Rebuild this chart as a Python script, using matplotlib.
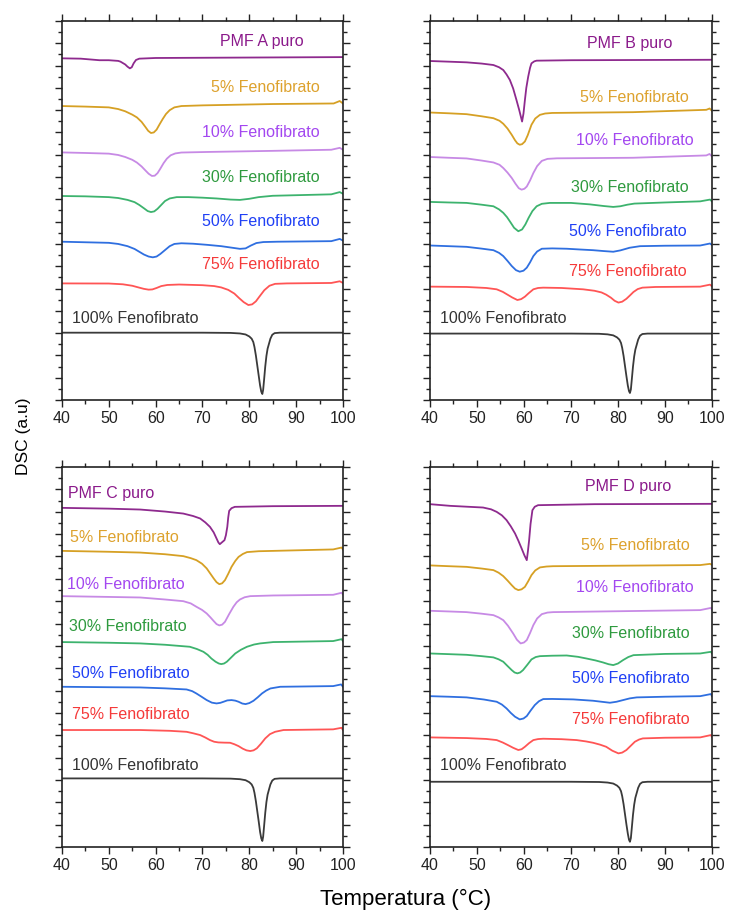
# -*- coding: utf-8 -*-
"""
DSC curves of PMF A-D with increasing fenofibrate content.
"""

import matplotlib
matplotlib.use('Agg')
import matplotlib.pyplot as plt
from matplotlib.ticker import MultipleLocator

plt.rcParams.update({'font.family': ['Liberation Sans', 'DejaVu Sans']})
plt.rcParams.update({'font.size': 11})
plt.rcParams.update({'axes.linewidth': 1.2})

#%% data (temperature in C, DSC in arbitrary offset units)

names_A = ['PMF A puro', '5% Fenofibrato', '10% Fenofibrato', '30% Fenofibrato',
           '50% Fenofibrato', '75% Fenofibrato', '100% Fenofibrato']
names_B = ['PMF B puro'] + names_A[1:]
names_C = ['PMF C puro'] + names_A[1:]
names_D = ['PMF D puro'] + names_A[1:]

# panel A
A_puro_T = [40, 44, 46, 48, 50, 52, 52.5, 53.5, 54, 54.5, 54.9, 55.3, 55.8, 56.5, 60, 70, 80, 90, 100]
A_puro_y = [30.65, 30.62, 30.55, 30.48, 30.48, 30.42, 30.35, 30.1, 29.9, 29.75, 29.85, 30.2, 30.5, 30.62, 30.68, 30.7, 30.72, 30.74, 30.76]
A_5_T = [40, 45, 50, 52, 53.5, 55, 56, 57, 57.8, 58.4, 59, 59.6, 60.2, 60.8, 61.5, 62.2, 63, 64, 65.5, 70, 85, 98, 99.3, 100]
A_5_y = [26.37, 26.32, 26.25, 26.1, 25.9, 25.6, 25.35, 24.95, 24.5, 24.15, 23.95, 24.0, 24.25, 24.7, 25.2, 25.65, 26.0, 26.25, 26.37, 26.43, 26.55, 26.6, 26.82, 26.6]
A_10_T = [40, 45, 50, 52, 53.5, 55, 56, 57, 57.8, 58.5, 59.2, 59.8, 60.4, 61, 61.7, 62.4, 63.2, 64.2, 65.5, 71, 85, 97.5, 99.3, 100]
A_10_y = [22.21, 22.16, 22.1, 21.98, 21.8, 21.55, 21.3, 20.95, 20.6, 20.3, 20.1, 20.12, 20.35, 20.75, 21.25, 21.65, 21.95, 22.12, 22.2, 22.25, 22.35, 22.45, 22.62, 22.45]
A_30_T = [40, 45, 50, 52, 54, 55.5, 56.5, 57.5, 58.3, 59, 59.7, 60.4, 61.2, 62, 63, 64.5, 67, 70, 73, 76, 78, 80, 82, 85, 97.5, 99.3, 100]
A_30_y = [18.3, 18.27, 18.2, 18.12, 17.95, 17.75, 17.5, 17.2, 16.95, 16.86, 16.92, 17.15, 17.5, 17.85, 18.08, 18.2, 18.2, 18.15, 18.08, 17.98, 17.95, 18.05, 18.2, 18.32, 18.45, 18.65, 18.5]
A_50_T = [40, 45, 50, 52, 54, 55.5, 56.5, 57.5, 58.5, 59.4, 60.2, 61, 62, 63, 64, 65.5, 68, 71, 74, 76.5, 78, 79.2, 80.3, 81.5, 83, 86, 97.5, 99.3, 100]
A_50_y = [14.2, 14.15, 14.1, 14.0, 13.8, 13.55, 13.3, 13.05, 12.87, 12.8, 12.87, 13.1, 13.45, 13.8, 14.0, 14.06, 14.02, 13.92, 13.8, 13.65, 13.56, 13.6, 13.85, 14.08, 14.17, 14.2, 14.25, 14.45, 14.3]
A_75_T = [40, 50, 53, 55, 56.5, 57.5, 58.5, 59.3, 60.2, 61.2, 62.5, 65, 70, 72.5, 74, 75.5, 76.8, 77.8, 78.8, 79.8, 80.6, 81.4, 82.2, 83.2, 84.3, 85.5, 88, 97.5, 99.3, 100]
A_75_y = [10.46, 10.45, 10.38, 10.25, 10.08, 9.97, 9.9, 9.92, 10.05, 10.22, 10.32, 10.36, 10.3, 10.22, 10.1, 9.88, 9.55, 9.15, 8.78, 8.52, 8.58, 8.85, 9.3, 9.85, 10.25, 10.42, 10.46, 10.5, 10.65, 10.5]
A_100_T = [40, 70, 76, 78.0, 79.2, 80.0, 80.5, 80.85, 81.1, 81.4, 81.7, 82.0, 82.3, 82.55, 82.78, 82.95, 83.15, 83.4, 83.65, 83.9, 84.2, 84.5, 84.9, 85.4, 86.5, 100]
A_100_y = [6.04, 6.04, 6.02, 5.97, 5.88, 5.7, 5.5, 5.2, 4.75, 4.0, 3.1, 2.2, 1.3, 0.75, 0.54, 0.9, 1.8, 3.0, 3.95, 4.6, 5.05, 5.5, 5.85, 6.0, 6.04, 6.04]

# panel B
B_puro_T = [40, 44, 47.8, 51, 53.5, 54.7, 55.6, 56.3, 57, 57.7, 58.4, 59.0, 59.6, 59.9, 60.2, 60.5, 60.9, 61.3, 61.6, 62.2, 62.7, 70, 85, 100]
B_puro_y = [30.41, 30.35, 30.29, 30.18, 30.05, 29.85, 29.6, 29.2, 28.71, 27.95, 26.92, 26.0, 24.98, 25.7, 26.9, 28.0, 29.0, 29.8, 30.2, 30.38, 30.44, 30.48, 30.5, 30.52]
B_5_T = [40, 44, 47.8, 51, 53.5, 54.8, 55.6, 56.5, 57.4, 58.1, 58.6, 59.1, 59.6, 60.2, 60.8, 61.6, 62.4, 63.4, 64.5, 66, 83.2, 98.8, 99.5, 100]
B_5_y = [25.79, 25.72, 25.64, 25.45, 25.28, 25.05, 24.78, 24.35, 23.79, 23.3, 23.02, 22.9, 22.95, 23.19, 23.75, 24.69, 25.25, 25.58, 25.7, 25.75, 25.82, 26.03, 26.15, 25.94]
B_10_T = [40, 44, 47.8, 51, 53.5, 54.8, 55.6, 56.5, 57.4, 58.2, 58.9, 59.5, 60.1, 60.6, 61.3, 62.0, 62.8, 63.8, 65, 67, 83.2, 98.8, 99.5, 100]
B_10_y = [21.8, 21.73, 21.67, 21.48, 21.31, 21.1, 20.81, 20.4, 19.92, 19.4, 19.0, 18.87, 18.95, 19.15, 19.7, 20.36, 20.98, 21.45, 21.63, 21.68, 21.73, 21.94, 22.07, 21.85]
B_30_T = [40, 44, 47.8, 51, 53.5, 54.7, 55.6, 56.4, 57.2, 57.9, 58.8, 59.6, 60.3, 61, 61.8, 62.7, 63.8, 65.5, 70, 74, 77, 79, 80.5, 82, 83.5, 90, 97.5, 99.6, 100]
B_30_y = [17.77, 17.72, 17.68, 17.52, 17.38, 17.1, 16.79, 16.4, 15.9, 15.45, 15.14, 15.3, 15.75, 16.35, 16.95, 17.38, 17.6, 17.68, 17.68, 17.55, 17.4, 17.32, 17.38, 17.52, 17.62, 17.72, 17.82, 17.98, 17.82]
B_50_T = [40, 44, 47.8, 51, 53.5, 54.7, 55.6, 56.5, 57.4, 58.3, 59.1, 59.9, 60.6, 61.3, 62.0, 62.8, 63.8, 66, 69.1, 72, 74.7, 77, 79.0, 80.5, 82.5, 84.7, 90, 97.5, 99.6, 100]
B_50_y = [13.86, 13.8, 13.74, 13.58, 13.44, 13.2, 12.91, 12.48, 12.02, 11.65, 11.51, 11.6, 11.87, 12.35, 12.91, 13.32, 13.57, 13.6, 13.57, 13.5, 13.44, 13.36, 13.3, 13.42, 13.66, 13.8, 13.84, 13.86, 14.04, 13.9]
B_75_T = [40, 47.8, 52, 54.2, 55.5, 56.5, 57.5, 58.6, 59.4, 60.2, 61, 62.0, 63, 64.1, 68, 72.6, 75, 76.5, 77.5, 78.5, 79.3, 80.1, 80.9, 81.8, 82.6, 83.3, 84.2, 85.2, 88, 97.5, 99.6, 100]
B_75_y = [10.17, 10.14, 10.05, 9.93, 9.7, 9.45, 9.2, 8.97, 9.05, 9.27, 9.58, 9.93, 10.05, 10.08, 10.05, 9.93, 9.8, 9.65, 9.45, 9.18, 8.9, 8.74, 8.82, 9.08, 9.4, 9.69, 9.95, 10.08, 10.14, 10.17, 10.35, 10.2]
B_100_T = [40, 70, 76, 77.8, 79.0, 79.8, 80.3, 80.65, 80.9, 81.2, 81.5, 81.8, 82.1, 82.35, 82.55, 82.75, 82.95, 83.2, 83.45, 83.7, 84.0, 84.3, 84.7, 85.2, 86.3, 100]
B_100_y = [5.96, 5.96, 5.94, 5.89, 5.8, 5.62, 5.42, 5.12, 4.68, 3.95, 3.05, 2.15, 1.3, 0.8, 0.63, 0.95, 1.85, 3.0, 3.9, 4.52, 4.97, 5.42, 5.77, 5.92, 5.96, 5.96]

# panel C
C_puro_T = [40, 50, 56.7, 62, 65.9, 68, 69.5, 70.6, 71.6, 72.4, 73.0, 73.4, 73.7, 74.2, 74.7, 75.0, 75.3, 75.5, 75.7, 76.2, 76.9, 85, 100]
C_puro_y = [30.35, 30.28, 30.2, 30.02, 29.84, 29.62, 29.4, 29.05, 28.65, 28.15, 27.61, 27.25, 27.1, 27.28, 27.46, 27.9, 28.65, 29.5, 30.08, 30.32, 30.44, 30.5, 30.53]
C_5_T = [40, 50, 56.7, 62, 65.9, 67.5, 68.7, 69.9, 70.9, 71.7, 72.4, 73.0, 73.6, 74.2, 74.8, 75.5, 76.2, 77.0, 77.7, 78.6, 79.5, 82, 85.1, 97.9, 99.7, 100]
C_5_y = [26.5, 26.42, 26.35, 26.2, 26.03, 25.85, 25.67, 25.35, 24.93, 24.45, 24.03, 23.7, 23.52, 23.6, 23.88, 24.45, 25.07, 25.6, 25.96, 26.22, 26.39, 26.47, 26.5, 26.63, 26.8, 26.63]
C_10_T = [40, 50, 56.7, 62, 65.9, 67.5, 68.7, 69.9, 70.9, 71.7, 72.4, 73.0, 73.6, 74.2, 74.8, 75.7, 76.6, 77.3, 78.0, 79, 80.2, 85.1, 97.9, 99.7, 100]
C_10_y = [22.45, 22.38, 22.33, 22.15, 22.0, 21.8, 21.5, 21.22, 20.9, 20.55, 20.22, 19.95, 19.83, 19.9, 20.15, 20.85, 21.5, 21.9, 22.15, 22.35, 22.45, 22.51, 22.57, 22.75, 22.6]
C_30_T = [40, 50, 56.7, 62, 67.3, 68.8, 70.2, 71.1, 71.9, 72.8, 73.5, 74.0, 74.6, 75.2, 76.1, 77.0, 78.2, 79.5, 81, 82.3, 85.1, 97.9, 99.7, 100]
C_30_y = [18.34, 18.28, 18.22, 18.1, 17.92, 17.72, 17.47, 17.2, 16.87, 16.58, 16.42, 16.37, 16.42, 16.58, 16.95, 17.32, 17.65, 17.92, 18.12, 18.22, 18.34, 18.43, 18.6, 18.43]
C_50_T = [40, 50, 56.7, 62, 66.6, 67.8, 68.7, 69.8, 70.9, 72.0, 73.0, 73.8, 74.5, 75.3, 76.2, 77.0, 77.7, 78.5, 79.2, 80.0, 80.9, 81.8, 82.7, 83.6, 84.5, 86.6, 97.9, 99.6, 100]
C_50_y = [14.34, 14.3, 14.28, 14.2, 14.1, 13.95, 13.74, 13.45, 13.15, 12.92, 12.85, 12.9, 13.0, 13.12, 13.15, 13.1, 13.0, 12.84, 12.79, 12.88, 13.09, 13.4, 13.74, 14.0, 14.19, 14.34, 14.4, 14.55, 14.34]
C_75_T = [40, 56.7, 63, 66.6, 68, 69.5, 70.6, 71.6, 72.5, 73.4, 74.7, 75.9, 76.8, 77.7, 78.6, 79.4, 80.2, 80.9, 81.6, 82.5, 83.4, 84.4, 85.5, 87.3, 97.9, 99.7, 100]
C_75_y = [10.47, 10.47, 10.4, 10.31, 10.18, 10.02, 9.8, 9.57, 9.42, 9.36, 9.34, 9.33, 9.2, 9.03, 8.8, 8.65, 8.59, 8.65, 8.83, 9.25, 9.72, 10.1, 10.31, 10.47, 10.53, 10.67, 10.47]
C_100_T = [40, 70, 76, 78.0, 79.2, 80.0, 80.5, 80.85, 81.1, 81.4, 81.7, 82.0, 82.3, 82.55, 82.78, 82.95, 83.15, 83.4, 83.65, 83.9, 84.2, 84.5, 84.9, 85.4, 86.5, 100]
C_100_y = [6.14, 6.14, 6.12, 6.07, 5.98, 5.8, 5.6, 5.3, 4.85, 4.1, 3.2, 2.3, 1.35, 0.78, 0.54, 0.92, 1.85, 3.05, 4.02, 4.68, 5.15, 5.6, 5.95, 6.1, 6.14, 6.14]

# panel D
D_puro_T = [40, 44.3, 48, 51.3, 53, 54.2, 55.3, 56.3, 57.2, 58.1, 58.8, 59.5, 60.1, 60.6, 60.85, 61.1, 61.4, 61.8, 62.3, 63.0, 75, 100]
D_puro_y = [30.68, 30.53, 30.45, 30.38, 30.22, 29.99, 29.68, 29.25, 28.7, 28.06, 27.42, 26.72, 26.1, 25.67, 26.5, 27.46, 28.9, 30.14, 30.45, 30.59, 30.68, 30.71]
D_5_T = [40, 44, 47.8, 51, 53.5, 54.6, 55.6, 56.5, 57.4, 58.1, 58.8, 59.5, 60.2, 60.9, 61.6, 62.4, 63.4, 64.8, 66.2, 97.5, 99.6, 100]
D_5_y = [25.2, 25.13, 25.07, 24.92, 24.78, 24.55, 24.24, 23.85, 23.43, 23.13, 22.99, 23.06, 23.28, 23.78, 24.33, 24.75, 25.02, 25.1, 25.13, 25.23, 25.34, 25.25]
D_10_T = [40, 44, 47.8, 51, 53.5, 54.6, 55.6, 56.6, 57.7, 58.5, 59.3, 60.0, 60.6, 61.3, 62.0, 62.8, 63.8, 65, 66.2, 97.5, 99.8, 100]
D_10_y = [21.14, 21.08, 21.02, 20.88, 20.75, 20.55, 20.3, 19.8, 19.11, 18.55, 18.22, 18.3, 18.52, 19.15, 19.86, 20.45, 20.84, 20.98, 21.02, 21.2, 21.4, 21.25]
D_30_T = [40, 44, 47.8, 51, 53.5, 54.6, 55.6, 56.5, 57.4, 58, 58.6, 59.2, 59.8, 60.7, 61.6, 62.5, 63.4, 66, 69.1, 71.5, 73.3, 75.2, 76.8, 78, 79.0, 80, 81.1, 82.2, 83.3, 90, 97.5, 99.8, 100]
D_30_y = [17.32, 17.26, 17.2, 17.08, 16.97, 16.8, 16.58, 16.2, 15.83, 15.62, 15.54, 15.62, 15.83, 16.3, 16.79, 17.0, 17.08, 17.12, 17.14, 17.02, 16.87, 16.7, 16.52, 16.36, 16.28, 16.42, 16.73, 17.0, 17.17, 17.28, 17.32, 17.47, 17.32]
D_50_T = [40, 44, 47.8, 51.5, 54.2, 55.3, 56.3, 57.2, 58.1, 59.1, 59.9, 60.6, 61.4, 62.3, 63.2, 64.1, 66, 70.5, 74.7, 76.5, 78.3, 79.7, 81.1, 82.5, 84.0, 90, 97.5, 99.8, 100]
D_50_y = [13.5, 13.45, 13.39, 13.2, 13.0, 12.75, 12.4, 12.0, 11.66, 11.42, 11.5, 11.72, 12.2, 12.7, 13.05, 13.24, 13.25, 13.21, 13.09, 13.0, 12.91, 13.0, 13.15, 13.3, 13.39, 13.45, 13.5, 13.69, 13.5]
D_75_T = [40, 47.8, 52, 54.2, 55.5, 56.6, 57.7, 58.8, 59.5, 60.2, 61.1, 62.0, 63, 64.1, 68, 71.2, 73.2, 74.7, 76.2, 77.5, 78.8, 80.1, 80.9, 81.8, 82.7, 83.6, 84.5, 85.3, 90, 97.5, 99.8, 100]
D_75_y = [9.81, 9.75, 9.67, 9.57, 9.35, 9.12, 8.88, 8.68, 8.75, 8.97, 9.3, 9.57, 9.66, 9.69, 9.65, 9.57, 9.45, 9.33, 9.16, 8.97, 8.62, 8.38, 8.45, 8.68, 9.05, 9.42, 9.62, 9.72, 9.78, 9.81, 10.02, 9.85]
D_100_T = [40, 70, 76, 77.8, 79.0, 79.8, 80.3, 80.65, 80.9, 81.2, 81.5, 81.8, 82.1, 82.35, 82.55, 82.75, 82.95, 83.2, 83.45, 83.7, 84.0, 84.3, 84.7, 85.2, 86.3, 100]
D_100_y = [5.84, 5.84, 5.82, 5.77, 5.68, 5.5, 5.3, 5.0, 4.56, 3.83, 2.93, 2.03, 1.2, 0.65, 0.47, 0.8, 1.72, 2.88, 3.78, 4.4, 4.85, 5.3, 5.65, 5.8, 5.84, 5.84]

#%% styles and layout

line_colors = ['#8E2A8E', '#D6A024', '#C78AE5', '#3DB36E', '#2F6FE0', '#FF5555', '#3A3A3A']
text_colors = ['#8B1A8B', '#DDA22E', '#A347F0', '#2E9A3E', '#2040F5', '#F53A3A', '#333333']

panels = [
    {'pos': [0.0850, 0.5633, 0.3855, 0.4138], 'names': names_A,
     'curves': [(A_puro_T, A_puro_y), (A_5_T, A_5_y), (A_10_T, A_10_y), (A_30_T, A_30_y),
                (A_50_T, A_50_y), (A_75_T, A_75_y), (A_100_T, A_100_y)],
     'labels': [(91.5, 32.2, 'right'), (95.1, 28.0, 'right'), (95.1, 24.0, 'right'),
                (95.1, 20.0, 'right'), (95.1, 16.0, 'right'), (95.1, 12.2, 'right'),
                (42.1, 7.3, 'left')]},
    {'pos': [0.5898, 0.5633, 0.3868, 0.4138], 'names': names_B,
     'curves': [(B_puro_T, B_puro_y), (B_5_T, B_5_y), (B_10_T, B_10_y), (B_30_T, B_30_y),
                (B_50_T, B_50_y), (B_75_T, B_75_y), (B_100_T, B_100_y)],
     'labels': [(91.5, 32.0, 'right'), (95.1, 27.1, 'right'), (96.2, 23.3, 'right'),
                (95.1, 19.1, 'right'), (94.7, 15.1, 'right'), (94.6, 11.5, 'right'),
                (42.1, 7.33, 'left')]},
    {'pos': [0.0850, 0.0753, 0.3855, 0.4148], 'names': names_C,
     'curves': [(C_puro_T, C_puro_y), (C_5_T, C_5_y), (C_10_T, C_10_y), (C_30_T, C_30_y),
                (C_50_T, C_50_y), (C_75_T, C_75_y), (C_100_T, C_100_y)],
     'labels': [(41.35, 31.6, 'left'), (41.7, 27.7, 'left'), (41.0, 23.5, 'left'),
                (41.55, 19.7, 'left'), (42.1, 15.5, 'left'), (42.2, 11.87, 'left'),
                (42.2, 7.33, 'left')]},
    {'pos': [0.5898, 0.0753, 0.3868, 0.4148], 'names': names_D,
     'curves': [(D_puro_T, D_puro_y), (D_5_T, D_5_y), (D_10_T, D_10_y), (D_30_T, D_30_y),
                (D_50_T, D_50_y), (D_75_T, D_75_y), (D_100_T, D_100_y)],
     'labels': [(91.4, 32.3, 'right'), (95.2, 27.0, 'right'), (96.2, 23.2, 'right'),
                (95.2, 19.1, 'right'), (95.3, 15.1, 'right'), (95.3, 11.4, 'right'),
                (42.1, 7.33, 'left')]},
]

#%% plot

fig = plt.figure(figsize=(7.29, 9.16), dpi=100)

for p in panels:
    ax = fig.add_axes(p['pos'])
    for k, (T, y) in enumerate(p['curves']):
        ax.plot(T, y, color=line_colors[k], lw=1.3, solid_joinstyle='round')
    for k, (tx, ty, ha) in enumerate(p['labels']):
        ax.text(tx, ty, p['names'][k], color=text_colors[k], ha=ha, va='center',
                fontsize=11.5)

    ax.set_xlim(40, 100)
    ax.set_ylim(0, 34)
    ax.xaxis.set_major_locator(MultipleLocator(10))
    ax.xaxis.set_minor_locator(MultipleLocator(5))
    ax.yaxis.set_major_locator(MultipleLocator(2))
    ax.yaxis.set_minor_locator(MultipleLocator(1))
    ax.tick_params(which='both', direction='out', top=True, right=True,
                   labelleft=False, width=1.0, colors='#222222')
    ax.tick_params(which='major', length=5, labelsize=11.5, pad=3)
    ax.tick_params(which='minor', length=3)
    for s in ax.spines.values():
        s.set_color('#222222')

fig.text(0.0316, 0.524, 'DSC (a.u)', rotation=90, ha='center', va='center', fontsize=12.5)
fig.text(0.557, 0.0186, 'Temperatura (°C)', ha='center', va='center', fontsize=16)

plt.savefig('out.png', dpi=100)
